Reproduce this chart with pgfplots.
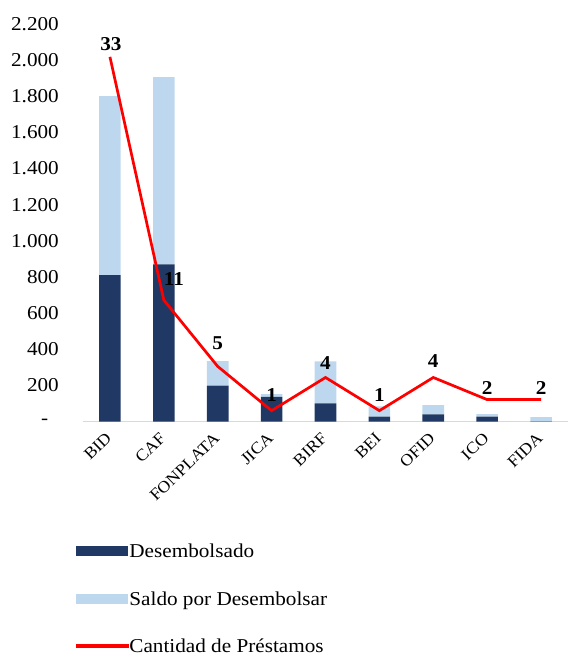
\documentclass[border=0pt]{standalone}
\usepackage{pgfplots}
\pgfplotsset{compat=1.18}
\usepackage{pgfplotstable}
\usepackage{fontspec}
\setmainfont{Liberation Serif}[FakeStretch=1.08]
\definecolor{darkbar}{HTML}{203864}
\definecolor{lightbar}{HTML}{BDD7EE}
\definecolor{axgray}{HTML}{D9D9D9}

\pgfplotstableread{
x des saldo
0 810 990
1 870 1035
2 200 135
3 137 15
4 102 232
5 28 57
6 40 52
7 28 14
8 2 24
}\bars

\pgfplotstableread{
x c dx dy
0 33 1 13
1 11 10 21
2 5 0 23
3 1 0 15.5
4 4 0 14
5 1 0 15.5
6 4 0 16
7 2 0 11.5
8 2 0 11.5
}\lineData

\begin{document}
\begin{tikzpicture}[x=1bp,y=1bp]
\useasboundingbox (0,0) rectangle (568,-653);
\begin{axis}[
  at={(83bp,-421.7bp)}, anchor=south west,
  scale only axis, width=485bp, height=398bp,
  xmin=-0.5, xmax=8.5, ymin=0, ymax=2200,
  ybar stacked, bar width=21.6bp,
  axis lines*=left,
  y axis line style={draw=none},
  x axis line style={draw=axgray, line width=1.5bp},
  tick style={draw=none},
  font=\fontsize{19.7}{23}\selectfont,
  /pgf/number format/assume math mode=true,
  xtick={0,...,8},
  xticklabels={BID,CAF,FONPLATA,JICA,BIRF,BEI,OFID,ICO,FIDA},
  xticklabel style={font=\fontsize{16.5}{19}\selectfont, xshift=-5bp, yshift=-10bp, rotate=44, anchor=north east, inner sep=0pt},
  ytick={0,200,...,2200},
  yticklabels={-\hphantom{0},200,400,600,800,{1.000},{1.200},{1.400},{1.600},{1.800},{2.000},{2.200}},
  yticklabel style={anchor=east, inner sep=0pt, xshift=-24bp},
  legend style={at={(axis description cs:-0.0144,-0.304)}, anchor=north west,
    draw=none, fill=none, inner sep=0pt, outer sep=0pt,
    row sep=27.6bp, column sep=1bp,
    nodes={inner sep=0pt, text height=15bp, text depth=5bp, anchor=base west},
    font=\fontsize{19.7}{23}\selectfont},
  legend cell align=left,
]
\addplot[fill=darkbar, draw=none,
  legend image code/.code={\fill[darkbar] (0bp,1.5bp) rectangle (52bp,11.5bp);}]
  table[x=x, y=des] {\bars};
\addlegendentry{Desembolsado}
\addplot[fill=lightbar, draw=none,
  legend image code/.code={\fill[lightbar] (0bp,1.5bp) rectangle (52bp,11.5bp);}]
  table[x=x, y=saldo] {\bars};
\addlegendentry{Saldo por Desembolsar}
\addlegendimage{red,
  legend image code/.code={\fill[red] (0bp,5.6bp) rectangle (52bp,8.4bp);}}
\addlegendentry{Cantidad de Préstamos}
\end{axis}
\begin{axis}[
  at={(83bp,-421.7bp)}, anchor=south west,
  scale only axis, width=485bp, height=398bp,
  xmin=-0.5, xmax=8.5, ymin=0, ymax=36,
  hide axis, clip=false,
  /pgf/number format/assume math mode=true,
]
\addplot[red, line width=2.7bp, mark=none,
  visualization depends on={\thisrow{dx} \as \dx},
  visualization depends on={\thisrow{dy} \as \dy},
  point meta=explicit symbolic,
  nodes near coords={\pgfplotspointmeta},
  every node near coord/.append style={anchor=center, inner sep=0pt,
    xshift=\dx*1bp, yshift=\dy*1bp, text=black,
    font=\fontsize{19.7}{23}\selectfont\bfseries},
] table[x=x, y=c, meta=c] {\lineData};
\end{axis}
\end{tikzpicture}
\end{document}
